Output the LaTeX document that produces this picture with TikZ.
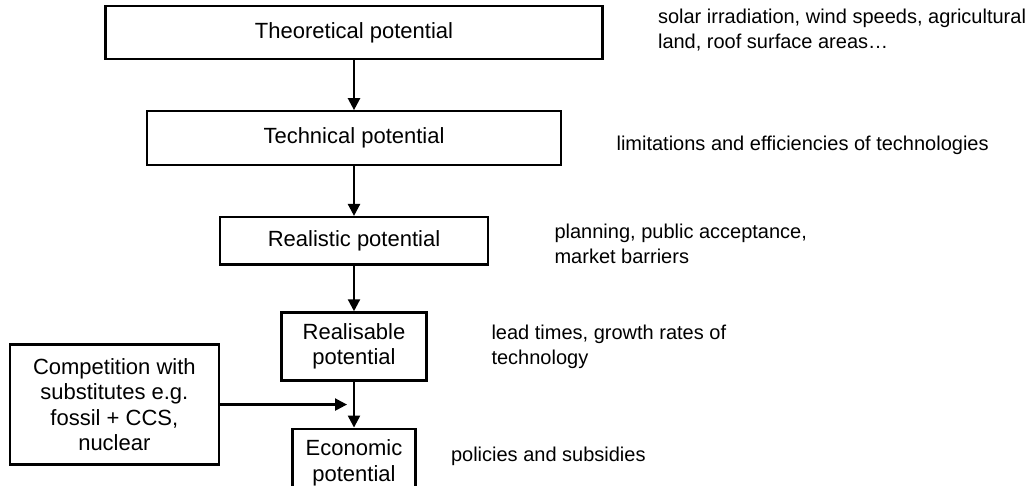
\documentclass[tikz,border=0pt]{standalone}
\usepackage{fontspec}
\setmainfont{Liberation Sans}
\usepackage{tikz}
\usetikzlibrary{arrows.meta, positioning, calc}
\newcommand{\boxfont}{\fontsize{11}{12.8}\selectfont}
\newcommand{\notefont}{\fontsize{10}{12.5}\selectfont}

\begin{document}
\begin{tikzpicture}[
  x=0.5pt, y=-0.5pt,
  node distance=25pt,
  box/.style={rectangle, draw=black, line width=1.15pt, fill=white, inner sep=0pt,
    align=center, font=\boxfont},
  note/.style={inner sep=0pt, anchor=west, align=left, font=\notefont},
  arrow/.style={-{Triangle[length=6pt,width=6pt]}, line width=1.15pt}
]
\useasboundingbox (0,0) rectangle (1026,486);

\node[box, minimum width=248.5pt, minimum height=26.5pt] (theo) at (354,32.5) {Theoretical potential};
\node[box, minimum width=207pt, minimum height=26.75pt, below=25pt of theo] (tech) {Technical potential};
\node[box, minimum width=134pt, minimum height=23.75pt, below=25pt of tech] (real) {Realistic potential};
\node[box, minimum width=72.5pt, minimum height=34pt, below=22.75pt of real] (realis) {Realisable\\potential};
\node[box, minimum width=61.5pt, minimum height=34pt, below=23pt of realis] (econ) {Economic\\potential};

% Competing options join the last step
\coordinate (merge) at ($(realis.south)!0.5!(econ.north)$);
\node[box, minimum width=104.5pt, minimum height=60pt, left=67pt of merge] (comp) {Competition with\\substitutes e.g.\\fossil + CCS,\\nuclear};

% Notes on the right
\node[note, right=27pt of theo, yshift=1pt] (theonote) {solar irradiation, wind speeds, agricultural\\land, roof surface areas…};
\node[note, right=27pt of tech, yshift=-3.5pt] (technote) {limitations and efficiencies of technologies};
\node[note, right=32.5pt of real, yshift=-1.5pt] (realnote) {planning, public acceptance,\\market barriers};
\node[note, right=31.75pt of realis] (realisnote) {lead times, growth rates of\\technology};
\node[note, right=17pt of econ, yshift=3pt] (econnote) {policies and subsidies};

\draw[arrow] (theo) -- (tech);
\draw[arrow] (tech) -- (real);
\draw[arrow] (real) -- (realis);
\draw[arrow] (realis) -- (econ);
\draw[arrow, shorten >=3.5pt] (comp) -- (merge);
\end{tikzpicture}
\end{document}
